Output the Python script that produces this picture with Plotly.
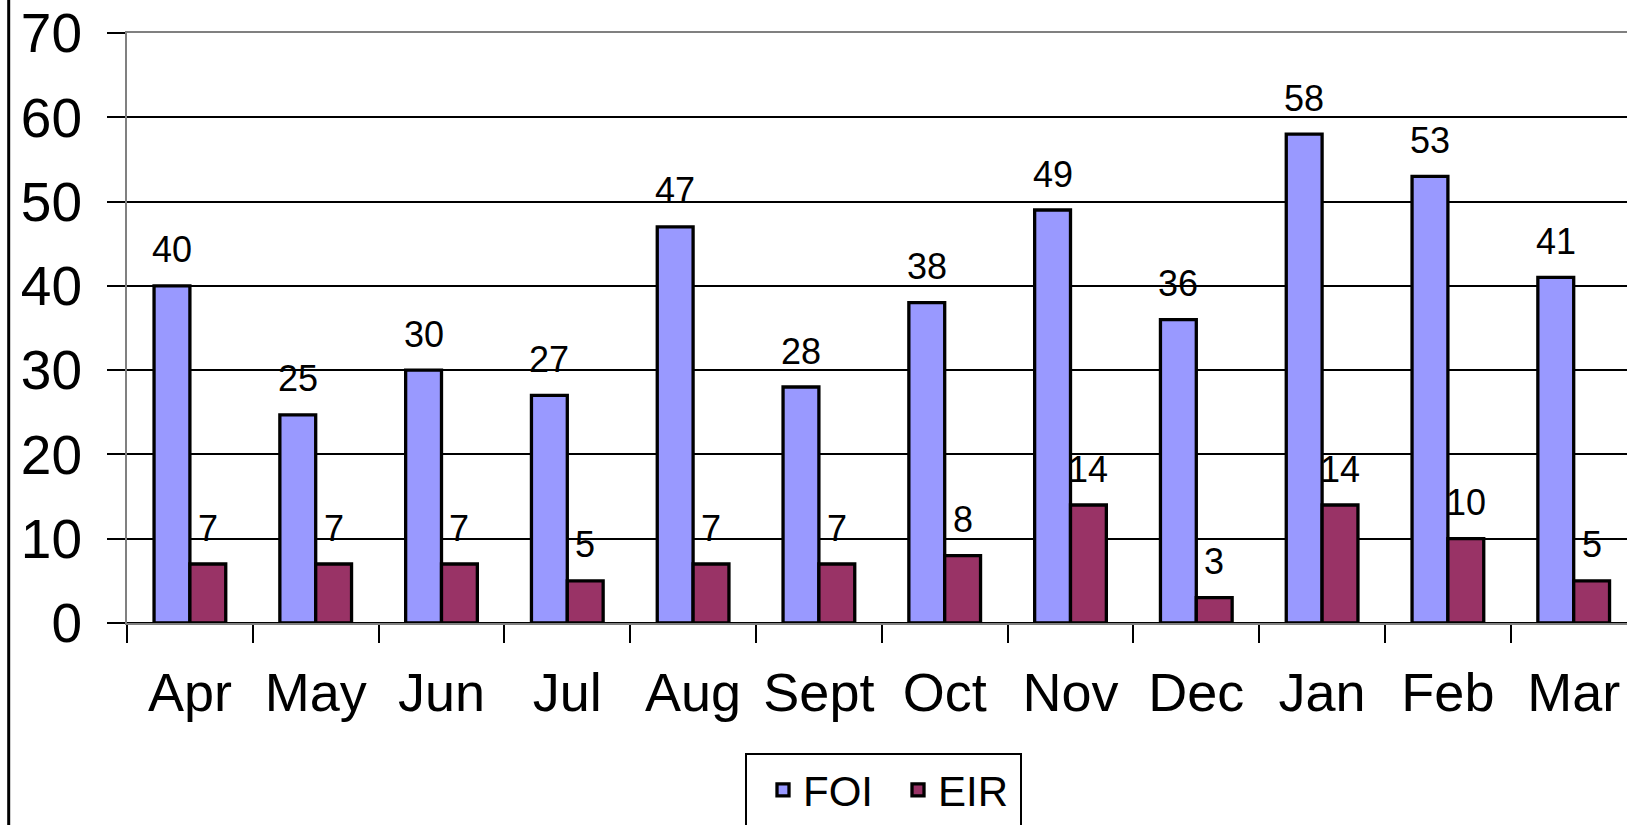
import plotly.graph_objects as go

months = ["Apr", "May", "Jun", "Jul", "Aug", "Sept", "Oct", "Nov", "Dec", "Jan", "Feb", "Mar"]
foi = [40, 24.7, 30, 27, 47, 28, 38, 49, 36, 58, 53, 41]
eir = [7, 7, 7, 5, 7, 7, 8, 14, 3, 14, 10, 5]
y_ticks = [0, 10, 20, 30, 40, 50, 60, 70]

FONT = "Liberation Sans, Arial, sans-serif"
W, H = 1627, 825
ML, MT, MB = 127, 33, 202
plot_w = W - ML
plot_h = H - MT - MB
cat_px = 125.8

fig = go.Figure()
fig.add_trace(go.Bar(name="FOI", x=months, y=foi, marker=dict(color="#9999FF", line=dict(color="black", width=3.3))))
fig.add_trace(go.Bar(name="EIR", x=months, y=eir, marker=dict(color="#993366", line=dict(color="black", width=3.3))))

bar_px = cat_px * (1 - 0.43) / 2
ann = []
for series, sign in ((foi, -1), (eir, 1)):
    for m, v in zip(months, series):
        ann.append(dict(x=m, y=v, text=f"{v:.0f}", showarrow=False, xref="x", yref="y",
                        xshift=sign * bar_px / 2, yshift=36, yanchor="middle",
                        font=dict(family=FONT, size=36, color="black")))

def px_x(p):
    return (p - ML) / plot_w

def px_y(p):
    return (MT + plot_h - p) / plot_h

shapes = [
    dict(type="line", xref="paper", yref="paper", x0=px_x(8.7), x1=px_x(8.7), y0=px_y(-5), y1=px_y(830),
         line=dict(color="black", width=3)),
    dict(type="rect", xref="paper", yref="paper", x0=px_x(746), x1=px_x(1021), y0=px_y(754), y1=px_y(840),
         line=dict(color="black", width=2), fillcolor="rgba(0,0,0,0)"),
]

fig.update_layout(
    width=W, height=H,
    margin=dict(l=ML, r=0, t=MT, b=MB, pad=0, autoexpand=False),
    paper_bgcolor="white", plot_bgcolor="white",
    font=dict(family=FONT, color="black"),
    barmode="group", bargap=0.43, bargroupgap=0,
    showlegend=True,
    legend=dict(orientation="h", x=px_x(763), xanchor="left", y=px_y(756), yanchor="top",
                font=dict(family=FONT, size=42, color="black"), bgcolor="rgba(0,0,0,0)",
                borderwidth=0, itemwidth=30, traceorder="normal", entrywidth=90),
    annotations=ann,
    shapes=shapes,
    xaxis=dict(type="category", range=[-0.5, -0.5 + plot_w / cat_px], tickson="boundaries",
               automargin=False,
               ticks="outside", ticklen=18, tickwidth=2, tickcolor="black",
               showline=True, linecolor="#808080", linewidth=2, mirror=True,
               showgrid=False, tickfont=dict(family=FONT, size=54, color="black"),
               ticklabelstandoff=21),
    yaxis=dict(range=[0, 70], tickvals=y_ticks, ticks="outside", ticklen=18, tickwidth=2, tickcolor="black",
               automargin=False,
               showline=True, linecolor="#808080", linewidth=2,
               showgrid=True, gridcolor="black", gridwidth=2,
               zeroline=True, zerolinecolor="black", zerolinewidth=2,
               tickfont=dict(family=FONT, size=55, color="black"), ticklabelstandoff=14),
)

fig.write_html("out.html", config={"displayModeBar": False},
               post_script="document.body.style.margin='0px';document.body.style.overflow='hidden';")
